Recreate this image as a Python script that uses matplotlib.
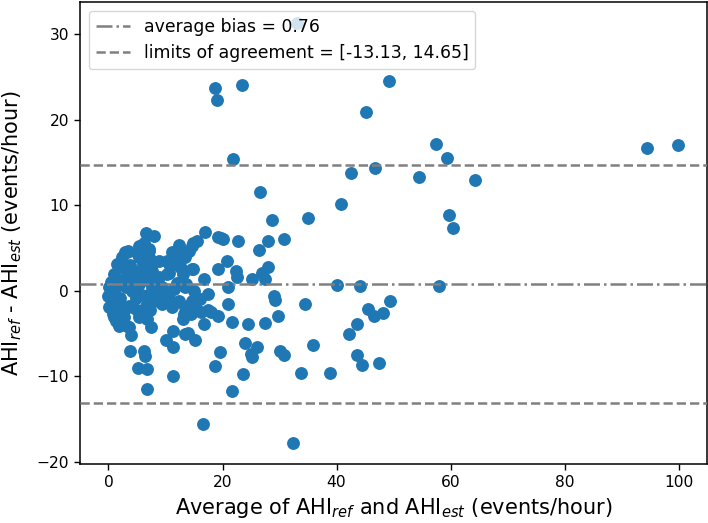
import matplotlib
matplotlib.use("Agg")
import matplotlib.pyplot as plt
import numpy as np

# Average of AHI_ref and AHI_est (x) and difference AHI_ref - AHI_est (y)
avg_sparse = [33.0, 18.7, 19.1, 23.4, 49.2, 45.2, 57.4, 59.3, 94.5, 99.9,
              21.8, 46.8, 42.6, 54.5, 64.3, 26.6, 40.8, 59.8, 60.5, 35.0,
              28.7, 30.8, 28.0, 26.4, 22.7, 19.7, 20.0, 19.2, 20.7, 17.0,
              22.3, 22.5, 19.2, 25.2, 26.9, 27.5, 28.0, 40.1, 44.1, 58.0,
              20.9, 20.9, 29.1, 29.2, 34.4, 49.4, 45.5, 46.6, 48.1, 29.8,
              21.7, 24.4, 27.5, 43.5, 42.1, 23.9, 26.1, 25.0, 25.1, 35.9,
              30.0, 30.8, 43.5, 44.5, 47.5, 19.5, 18.7, 23.6, 33.7, 38.8,
              21.6, 16.6, 32.3, 6.7, 11.3, 6.7, 5.1, 3.8, 6.2, 6.4,
              3.9, 10.0, 11.4, 11.3, 13.5, 13.9, 15.1, 16.7, 17.5, 19.2,
              18.0, 16.2, 17.4, 16.7, 7.4]
diff_sparse = [31.3, 23.7, 22.3, 24.1, 24.5, 20.9, 17.2, 15.5, 16.7, 17.0,
               15.4, 14.4, 13.8, 13.3, 12.9, 11.6, 10.1, 8.9, 7.3, 8.5,
               8.3, 6.1, 5.8, 4.8, 5.8, 6.2, 6.0, 6.3, 3.5, 6.9,
               2.3, 1.6, 2.5, 1.4, 2.1, 1.4, 2.8, 0.7, 0.5, 0.5,
               0.4, -1.6, -0.6, -1.1, -1.5, -1.2, -2.1, -2.9, -2.6, -2.9,
               -3.7, -3.9, -3.8, -3.9, -5.1, -6.1, -6.6, -7.4, -7.8, -6.3,
               -7.0, -7.5, -7.5, -8.7, -8.4, -7.2, -8.8, -9.7, -9.6, -9.6,
               -11.7, -15.6, -17.8, -11.5, -10.0, -9.1, -9.0, -7.1, -7.1, -7.6,
               -5.2, -5.8, -6.6, -4.7, -5.1, -4.9, -5.8, -3.9, -2.3, -2.9,
               -2.5, -2.5, -0.4, 1.4, -4.3]

avg_cluster = [6.5, 8.0, 5.4, 7.1, 3.3, 2.4, 1.5, 5.4, 7.1, 7.7,
               1.0, 2.7, 4.2, 5.4, 0.1, 0.0, 0.7, 1.5, 3.0, 4.2,
               5.4, 6.8, 7.7, 8.9, 8.6, 7.1, 3.6, 8.9, 15.6, 14.7,
               12.4, 11.2, 12.1, 14.1, 13.5, 10.6, 12.4, 14.7, 10.3, 13.0,
               9.4, 11.5, 13.5, 15.0, 10.6, 12.4, 14.7, 9.4, 11.2, 13.5,
               0.1, 1.8, 4.2, 6.5, 1.0, 2.7, 5.4, 1.8, 3.6, 13.3,
               14.4, 13.0, 0.5, 0.8, 1.5, 2.0, 2.3, 2.8, 3.4, 3.8,
               4.6, 4.8, 5.0, 5.9, 6.0, 6.3, 6.6, 7.3, 7.5, 8.3,
               8.0, 9.9, 10.2, 12.0, 12.8, 13.6, 14.8, 15.3, 16.0, 2.0,
               2.2, 3.3, 5.0, 6.0, 6.7, 7.3, 7.3, 9.3, 0.5, 0.8,
               1.3, 1.9, 3.5, 2.9, 7.1, 11.4, 12.5, 10.7, 14.8]
diff_cluster = [6.8, 6.4, 5.25, 4.7, 4.5, 3.9, 3.1, 3.9, 3.3, 2.3,
                2.0, 2.6, 2.3, 2.3, 0.4, -0.6, -1.2, -1.6, 0.4, 0.0,
                0.8, 1.2, 0.4, 1.6, -1.2, -1.6, -1.75, 3.5, 5.8, 5.25,
                5.4, 4.5, 4.3, 4.7, 3.9, 3.1, 2.9, 2.5, 1.9, 1.9,
                0.4, 0.2, 0.4, 0.0, -0.8, -1.2, -1.2, -1.6, -1.9, -1.9,
                -1.9, -1.6, -1.9, -1.75, -3.1, -3.1, -3.1, -4.1, -4.3, -2.7,
                -2.7, -3.3, 1.0, -0.3, 0.5, -0.8, 1.2, -2.2, 1.6, 3.0,
                1.4, -0.9, 4.4, -0.5, 3.2, 5.6, 2.0, 3.7, 2.7, 0.9,
                -0.3, -0.2, 3.5, 0.9, 2.7, 0.8, 5.6, -2.1, -1.0, -2.7,
                -3.7, -4.1, -2.3, -2.4, -3.3, -2.3, -0.4, -0.4, -1.8, -2.7,
                -3.5, -3.8, 4.6, 4.5, 4.9, 3.1, 4.4, 2.1, 2.5]

bias = 0.76
loa_low = -13.13
loa_high = 14.65

x = np.array(avg_sparse + avg_cluster)
y = np.array(diff_sparse + diff_cluster)

plt.rcParams['font.family'] = ['DejaVu Sans']
fig = plt.figure(figsize=(7.08, 5.23), dpi=100)
ax = fig.add_axes([0.113, 0.113, 0.885, 0.883])

ax.scatter(x, y, s=68, color='#1f77b4', zorder=2)
ax.axhline(bias, color='gray', linestyle='-.', linewidth=1.8,
           label=f'average bias = {bias:.2f}', zorder=3)
ax.axhline(loa_high, color='gray', linestyle='--', linewidth=1.8,
           label=f'limits of agreement = [{loa_low:.2f}, {loa_high:.2f}]', zorder=3)
ax.axhline(loa_low, color='gray', linestyle='--', linewidth=1.8, zorder=3)

ax.set_xlabel(r'Average of AHI$_{ref}$ and AHI$_{est}$ (events/hour)', fontsize=15)
ax.set_ylabel(r'AHI$_{ref}$ - AHI$_{est}$ (events/hour)', fontsize=15, labelpad=9)
ax.tick_params(labelsize=11.2, length=4.5, width=1.0)
for sp in ax.spines.values():
    sp.set_linewidth(1.1)
ax.legend(loc='upper left', fontsize=12.4)

fig.savefig('out.png', dpi=100)
